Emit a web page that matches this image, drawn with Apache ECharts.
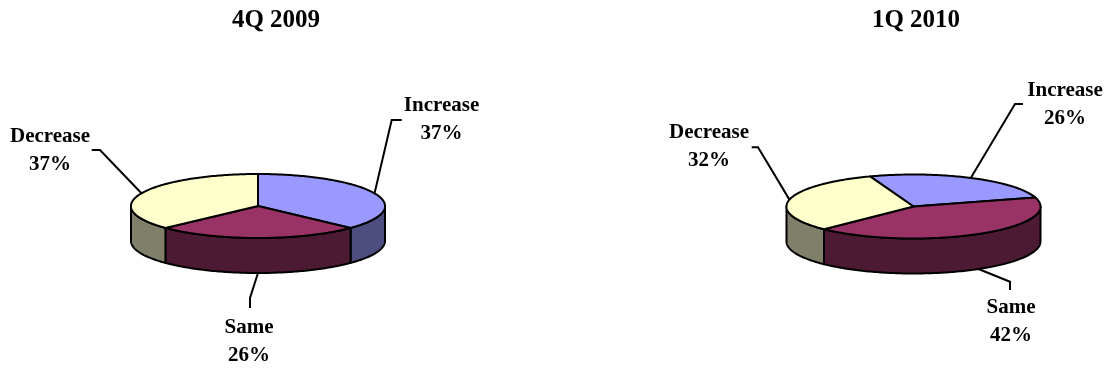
<!DOCTYPE html>
<html>
<head>
<meta charset="utf-8">
<script src="https://cdn.jsdelivr.net/npm/echarts@6/dist/echarts.min.js"></script>
<style>
  html, body { margin: 0; padding: 0; background: #ffffff; }
  #chart { width: 1109px; height: 371px; }
</style>
</head>
<body>
<div id="chart"></div>
<script>
// Survey answers per quarter, in percent
const categories = ['Increase', 'Same', 'Decrease'];
const periods = ['4Q 2009', '1Q 2010'];
const values4Q2009 = [37, 26, 37];
const values1Q2010 = [26, 42, 32];
const pieValues = [values4Q2009, values1Q2010];

// Top face colour and darker wall colour for each category
const topColors = ['#9999FF', '#993366', '#FFFFCC'];
const sideColors = ['#4D4D80', '#4D1A33', '#80806A'];

// Each tilted pie: center, disc radii, wall depth, first slice angle
// (degrees clockwise from 12 o'clock), title center
const pieLayout = [
  { cx: 258, cy: 206, rx: 127, ry: 32, depth: 35, startAngle: 0, titleX: 271 },
  { cx: 913.5, cy: 206.5, rx: 127, ry: 32, depth: 35, startAngle: -20, titleX: 911 }
];

// Label centers and leader-line elbows, relative to each pie center
const labelLayout = [
  [
    { label: [183.5, -86], elbow: [133.7, -86], end: [143.7, -86] },
    { label: [-9, 136], elbow: [-8, 92], end: [-8, 102] },
    { label: [-208, -55], elbow: [-158, -56], end: [-166.3, -56] }
  ],
  [
    { label: [151.5, -101.5], elbow: [101.5, -102.5], end: [109.5, -102.5] },
    { label: [97.5, 115.5], elbow: [96.5, 75.2], end: [96.5, 83.5] },
    { label: [-204.5, -59.5], elbow: [-155.5, -59.2], end: [-161.8, -59.2] }
  ]
];

const seriesData = [];
pieValues.forEach(function (vals, p) {
  vals.forEach(function (v, i) { seriesData.push([p, i, v]); });
});

function sum(arr) { return arr.reduce(function (a, b) { return a + b; }, 0); }

// point on the disc rim, angle clockwise from the top, optionally dropped by dy
function rimPoint(L, deg, dy) {
  const r = deg * Math.PI / 180;
  return [L.cx + L.rx * Math.sin(r), L.cy - L.ry * Math.cos(r) + (dy || 0)];
}

function arcPoints(L, a0, a1, dy) {
  const n = Math.max(2, Math.ceil(Math.abs(a1 - a0)));
  const pts = [];
  for (let k = 0; k <= n; k++) pts.push(rimPoint(L, a0 + (a1 - a0) * k / n, dy));
  return pts;
}

const outline = { stroke: '#000000', lineWidth: 2, lineJoin: 'round' };

function renderSlice(params, api) {
  const p = api.value(0);
  const i = api.value(1);
  const v = api.value(2);
  const L = pieLayout[p];
  const vals = pieValues[p];
  const total = sum(vals);
  const a0 = L.startAngle + 360 * sum(vals.slice(0, i)) / total;
  const a1 = a0 + 360 * v / total;
  const children = [];

  // visible part of the outer wall lies between 90 and 270 degrees
  for (let k = -1; k <= 1; k++) {
    const s = Math.max(a0, 90 + 360 * k);
    const e = Math.min(a1, 270 + 360 * k);
    if (e > s) {
      const pts = arcPoints(L, s, e, 0).concat(arcPoints(L, e, s, L.depth));
      children.push({
        type: 'polygon', z2: 1,
        shape: { points: pts },
        style: Object.assign({ fill: sideColors[i] }, outline)
      });
    }
  }

  // top face of the slice
  children.push({
    type: 'polygon', z2: 2,
    shape: { points: [[L.cx, L.cy]].concat(arcPoints(L, a0, a1, 0)) },
    style: Object.assign({ fill: topColors[i] }, outline)
  });

  // leader line from the slice middle to its label
  const mid = (a0 + a1) / 2;
  const front = Math.cos(mid * Math.PI / 180) < 0;
  const anchor = rimPoint(L, mid, front ? L.depth : 0);
  const lab = labelLayout[p][i];
  children.push({
    type: 'polyline', z2: 3,
    shape: { points: [anchor, [L.cx + lab.elbow[0], L.cy + lab.elbow[1]], [L.cx + lab.end[0], L.cy + lab.end[1]]] },
    style: { stroke: '#000000', lineWidth: 2, fill: null }
  });

  children.push({
    type: 'text', z2: 4,
    x: L.cx + lab.label[0], y: L.cy + lab.label[1],
    style: {
      text: categories[i] + '\n' + v + '%',
      fill: '#000000',
      fontFamily: '"Liberation Serif", "Times New Roman", serif',
      fontWeight: 'bold',
      fontSize: 21,
      lineHeight: 28,
      align: 'center',
      verticalAlign: 'middle'
    }
  });

  return { type: 'group', children: children };
}

const chart = echarts.init(document.getElementById('chart'), null, { renderer: 'canvas' });
chart.setOption({
  backgroundColor: '#ffffff',
  animation: false,
  title: periods.map(function (t, p) {
    return {
      text: t,
      left: pieLayout[p].titleX,
      top: 3,
      textAlign: 'center',
      textStyle: {
        fontFamily: '"Liberation Serif", "Times New Roman", serif',
        fontWeight: 'bold',
        fontSize: 25,
        color: '#000000'
      }
    };
  }),
  series: [{
    type: 'custom',
    coordinateSystem: 'none',
    renderItem: renderSlice,
    data: seriesData,
    silent: true
  }]
});
</script>
</body>
</html>
